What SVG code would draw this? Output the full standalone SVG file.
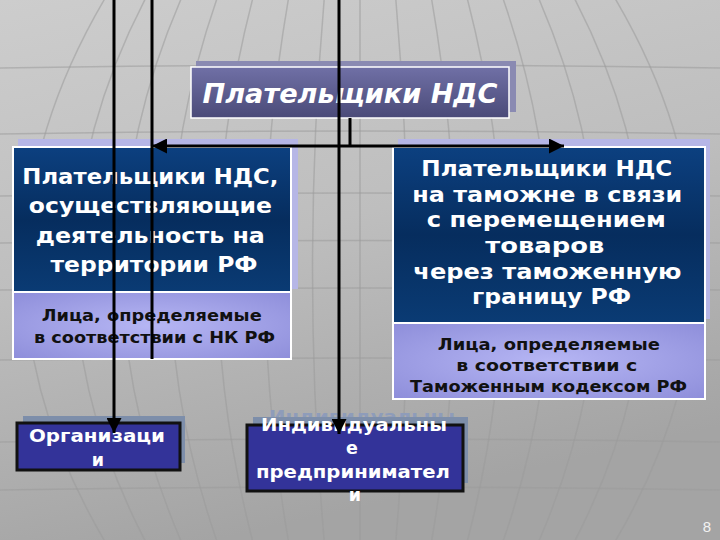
<svg xmlns="http://www.w3.org/2000/svg" width="720" height="540" viewBox="0 0 720 540">
  <defs>
    <linearGradient id="bg" x1="0" y1="0" x2="0.3" y2="1">
      <stop offset="0" stop-color="#cdcdcd"/>
      <stop offset="0.5" stop-color="#bebebe"/>
      <stop offset="1" stop-color="#a4a4a4"/>
    </linearGradient>
    <linearGradient id="titleG" x1="0" y1="0" x2="0" y2="1">
      <stop offset="0" stop-color="#7070a6"/>
      <stop offset="1" stop-color="#4a4a78"/>
    </linearGradient>
    <linearGradient id="navyG" x1="0" y1="0" x2="0" y2="1">
      <stop offset="0" stop-color="#0c4080"/>
      <stop offset="0.5" stop-color="#062d5e"/>
      <stop offset="1" stop-color="#0a3b74"/>
    </linearGradient>
    <radialGradient id="lavG" cx="0.5" cy="0.5" r="0.7">
      <stop offset="0" stop-color="#b6b6f4"/>
      <stop offset="1" stop-color="#8e8eda"/>
    </radialGradient>
    <marker id="arr" viewBox="0 0 10 10" refX="10" refY="5" markerWidth="6" markerHeight="5" markerUnits="strokeWidth" orient="auto-start-reverse">
      <path d="M0,0 L10,5 L0,10 z" fill="#000"/>
    </marker>
    <style>
      .grid { fill: none; stroke: #9a9a9a; stroke-width: 1.5; opacity: 0.55; }
      .wt { font-family: "DejaVu Sans", Verdana, sans-serif; font-weight: bold; fill: #ffffff; text-anchor: middle; }
      .bk { font-family: "DejaVu Sans", Verdana, sans-serif; font-weight: bold; fill: #111111; text-anchor: middle; }
      .line { stroke: #000; stroke-width: 3; fill: none; }
      .navy { fill: url(#navyG); stroke: #ffffff; stroke-width: 2; }
      .lav { fill: url(#lavG); stroke: #ffffff; stroke-width: 2; }
      .dark { fill: #333399; stroke: #111111; stroke-width: 3; }
      .shadowB { fill: #7d8eaa; }
    </style>
  </defs>

  <!-- background -->
  <rect x="0" y="0" width="720" height="540" fill="url(#bg)"/>
  <g id="globe">
    <path class="grid" d="M0,68 Q360,62 720,68"/>
    <path class="grid" d="M0,134 Q360,128 720,134"/>
    <path class="grid" d="M0,196 Q360,190 720,196"/>
    <path class="grid" d="M0,243 Q360,238 720,243"/>
    <path class="grid" d="M0,290 Q360,286 720,290"/>
    <path class="grid" d="M0,360 Q360,356 720,360"/>
    <path class="grid" d="M0,442 Q360,436 720,442"/>
    <path class="grid" d="M0,490 Q360,484 720,490"/>
    <path class="grid" d="M360,0 L360,540"/>
    <path class="grid" d="M325,-10 Q300,270 325,550"/>
    <path class="grid" d="M395,-10 Q420,270 395,550"/>
    <path class="grid" d="M290,-10 Q240,270 290,550"/>
    <path class="grid" d="M430,-10 Q480,270 430,550"/>
    <path class="grid" d="M255,-10 Q180,270 255,550"/>
    <path class="grid" d="M465,-10 Q540,270 465,550"/>
    <path class="grid" d="M220,-10 Q120,270 220,550"/>
    <path class="grid" d="M500,-10 Q600,270 500,550"/>
    <path class="grid" d="M185,-10 Q60,270 185,550"/>
    <path class="grid" d="M535,-10 Q660,270 535,550"/>
    <path class="grid" d="M150,-10 Q0,270 150,550"/>
    <path class="grid" d="M570,-10 Q720,270 570,550"/>
    <path class="grid" d="M110,-10 Q-60,270 110,550"/>
    <path class="grid" d="M610,-10 Q780,270 610,550"/>
  </g>

  <!-- title -->
  <g id="title">
    <rect x="196" y="61" width="320" height="51" fill="#8a8ab2"/>
    <rect x="191" y="67" width="318" height="51" fill="url(#titleG)" stroke="#ffffff" stroke-width="1.5"/>
    <text class="wt" x="350" y="103" font-size="27" font-style="italic" textLength="295" lengthAdjust="spacingAndGlyphs">Плательщики НДС</text>
  </g>

  <!-- left block -->
  <g id="left">
    <rect x="18" y="139" width="280" height="150" fill="#b6b6e6"/>
    <rect class="navy" x="13" y="147" width="278" height="145"/>
    <rect class="lav" x="13" y="292" width="278" height="67"/>
    <text class="wt" font-size="21">
      <tspan x="154" y="184" textLength="256" lengthAdjust="spacingAndGlyphs">Плательщики НДС,</tspan>
      <tspan x="154" y="213" textLength="243" lengthAdjust="spacingAndGlyphs">осуществляющие</tspan>
      <tspan x="154" y="243" textLength="229" lengthAdjust="spacingAndGlyphs">деятельность на</tspan>
      <tspan x="154" y="272" textLength="207" lengthAdjust="spacingAndGlyphs">территории РФ</tspan>
    </text>
    <text class="bk" font-size="16">
      <tspan x="154.5" y="321" textLength="220" lengthAdjust="spacingAndGlyphs">Лица, определяемые</tspan>
      <tspan x="154.5" y="343" textLength="241" lengthAdjust="spacingAndGlyphs">в соответствии с НК РФ</tspan>
    </text>
  </g>

  <!-- right block -->
  <g id="right">
    <rect x="398" y="139" width="312" height="180" fill="#b6b6e6"/>
    <rect class="navy" x="393" y="147" width="312" height="176"/>
    <rect class="lav" x="393" y="323" width="312" height="76"/>
    <text class="wt" font-size="21">
      <tspan x="550.5" y="176" textLength="251" lengthAdjust="spacingAndGlyphs">Плательщики НДС</tspan>
      <tspan x="551" y="202" textLength="270" lengthAdjust="spacingAndGlyphs">на таможне в связи</tspan>
      <tspan x="550" y="227" textLength="239" lengthAdjust="spacingAndGlyphs">с перемещением</tspan>
      <tspan x="548.5" y="253" textLength="119" lengthAdjust="spacingAndGlyphs">товаров</tspan>
      <tspan x="551" y="279" textLength="268" lengthAdjust="spacingAndGlyphs">через таможенную</tspan>
      <tspan x="551.5" y="304" textLength="159" lengthAdjust="spacingAndGlyphs">границу РФ</tspan>
    </text>
    <text class="bk" font-size="15.5">
      <tspan x="551.5" y="350" textLength="222" lengthAdjust="spacingAndGlyphs">Лица, определяемые</tspan>
      <tspan x="549.5" y="371" textLength="181" lengthAdjust="spacingAndGlyphs">в соответствии с</tspan>
      <tspan x="548.5" y="392" textLength="277" lengthAdjust="spacingAndGlyphs">Таможенным кодексом РФ</tspan>
    </text>
  </g>

  <!-- organizations -->
  <g id="org">
    <rect class="shadowB" x="23" y="416" width="162" height="47"/>
    <rect class="dark" x="17" y="423" width="163" height="47"/>
    <text class="wt" font-size="17.5">
      <tspan x="100" y="442" textLength="136" lengthAdjust="spacingAndGlyphs">Организаци</tspan>
      <tspan x="98" y="466">и</tspan>
    </text>
  </g>

  <!-- individual entrepreneurs -->
  <g id="ip">
    <text x="362" y="423" font-family="DejaVu Sans, Verdana, sans-serif" font-weight="bold" font-size="17.5" fill="#8e9cba" text-anchor="middle" textLength="186" lengthAdjust="spacingAndGlyphs">Индивидуальны</text>
    <rect class="shadowB" x="253" y="417" width="215" height="66"/>
    <rect class="dark" x="247" y="425" width="216" height="66"/>
    <text class="wt" font-size="17.5">
      <tspan x="357" y="431" textLength="186" lengthAdjust="spacingAndGlyphs">Индивидуальны</tspan>
      <tspan x="355" y="454">е</tspan>
      <tspan x="356" y="478" textLength="194" lengthAdjust="spacingAndGlyphs">предпринимател</tspan>
      <tspan x="355" y="501">и</tspan>
    </text>
  </g>

  <!-- connectors -->
  <g id="connectors">
    <line class="line" x1="350" y1="118" x2="350" y2="146"/>
    <line class="line" x1="350" y1="146" x2="152" y2="146" marker-end="url(#arr)"/>
    <line class="line" x1="350" y1="146" x2="564" y2="146" marker-end="url(#arr)"/>
    <line class="line" x1="152" y1="0" x2="152" y2="359"/>
    <line class="line" x1="114" y1="0" x2="114" y2="433" marker-end="url(#arr)"/>
    <line class="line" x1="339" y1="0" x2="339" y2="434" marker-end="url(#arr)"/>
  </g>

  <text x="707" y="532" font-family="Liberation Sans, Arial, sans-serif" font-size="15" fill="#f2f2f2" text-anchor="middle">8</text>
</svg>
